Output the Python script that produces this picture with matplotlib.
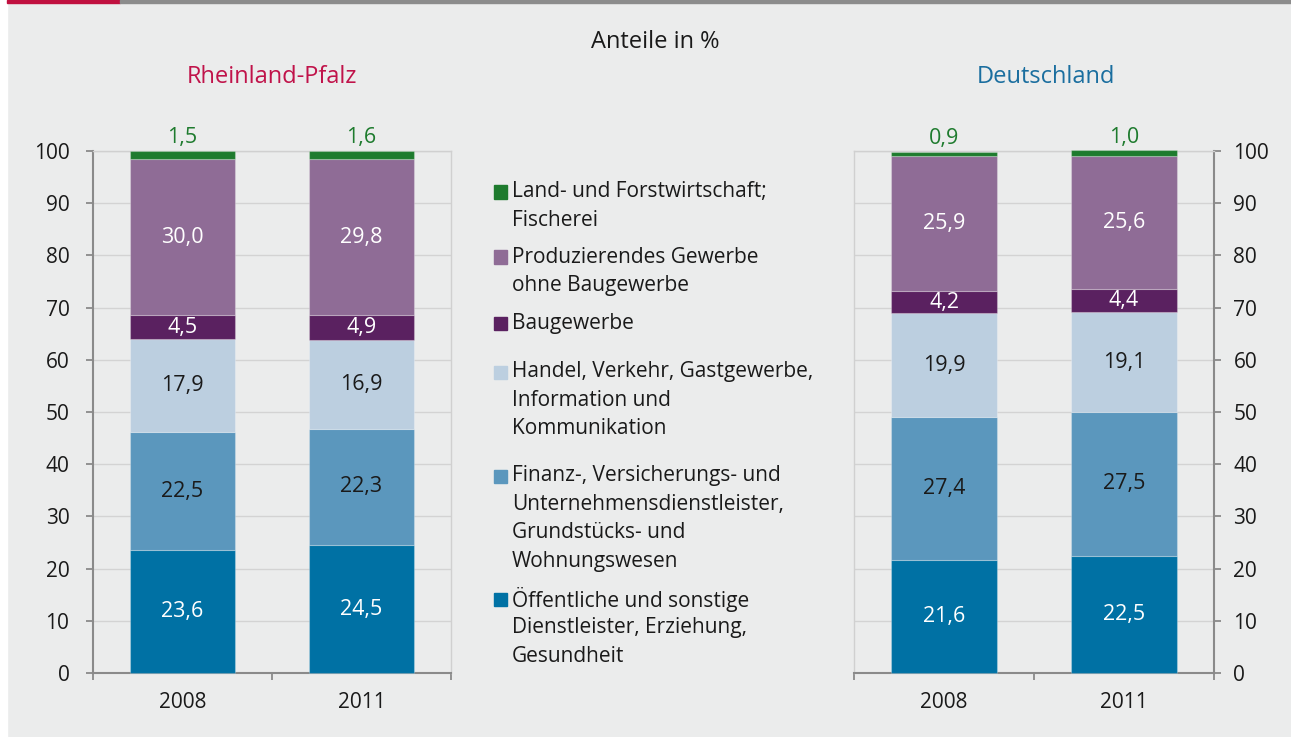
import matplotlib
matplotlib.use("Agg")
import matplotlib.pyplot as plt
from matplotlib.patches import Rectangle
import numpy as np

plt.rcParams['font.family'] = ['Open Sans', 'DejaVu Sans']

# ---------------- data ----------------
years = ['2008', '2011']
sectors = [
    "Öffentliche und sonstige\nDienstleister, Erziehung,\nGesundheit",
    "Finanz-, Versicherungs- und\nUnternehmensdienstleister,\nGrundstücks- und\nWohnungswesen",
    "Handel, Verkehr, Gastgewerbe,\nInformation und\nKommunikation",
    "Baugewerbe",
    "Produzierendes Gewerbe\nohne Baugewerbe",
    "Land- und Forstwirtschaft;\nFischerei",
]
rp_oeff = [23.6, 24.5]
rp_fin = [22.5, 22.3]
rp_handel = [17.9, 16.9]
rp_bau = [4.5, 4.9]
rp_prod = [30.0, 29.8]
rp_land = [1.5, 1.6]

de_oeff = [21.6, 22.5]
de_fin = [27.4, 27.5]
de_handel = [19.9, 19.1]
de_bau = [4.2, 4.4]
de_prod = [25.9, 25.6]
de_land = [0.9, 1.0]

yticks = [0, 10, 20, 30, 40, 50, 60, 70, 80, 90, 100]

colors = ['#0071a4', '#5b97bd', '#bccfe0', '#5a2160', '#8f6c96', '#1e7b2e']
label_colors = ['white', '#1a1a1a', '#1a1a1a', 'white', 'white', None]

BG = '#ebecec'
TXT = '#1a1a1a'
W, H = 1291, 737
fig = plt.figure(figsize=(W / 100, H / 100), dpi=100, facecolor=BG)

def fx(px):
    return px / W

def fy(py):
    return 1 - py / H

# decorations: white left margin, top bar
fig.add_artist(Rectangle((0, 0), fx(7), 1, transform=fig.transFigure, color='white', zorder=0))
fig.add_artist(Rectangle((fx(7), fy(3)), fx(113), 3 / H, transform=fig.transFigure,
                         color='#c0103f', zorder=1))
fig.add_artist(Rectangle((fx(120), fy(3)), 1 - fx(120), 3 / H, transform=fig.transFigure,
                         color='#8c8c8c', zorder=1))


def fmt(v):
    return f"{v:.1f}".replace('.', ',')


def draw(ax, series, side):
    ax.set_facecolor(BG)
    x = np.arange(len(years))
    bottom = np.zeros(len(years))
    for i, vals in enumerate(series):
        vals = np.array(vals)
        ax.bar(x, vals, 0.587, bottom=bottom, color=colors[i], zorder=3,
               edgecolor=(1, 1, 1, 0.25), linewidth=0.8, clip_on=False)
        for j in range(len(years)):
            if label_colors[i] is None:
                ax.annotate(fmt(vals[j]), (x[j], bottom[j] + vals[j]), xytext=(0, 2),
                            textcoords='offset points', ha='center', va='bottom',
                            color=colors[i], fontsize=15.5, annotation_clip=False)
            else:
                ax.text(x[j], bottom[j] + vals[j] / 2, fmt(vals[j]), ha='center', va='center',
                        color=label_colors[i], fontsize=15.5, zorder=4)
        bottom = bottom + vals
    ax.set_xlim(-0.5, 1.5)
    ax.set_ylim(0, 100)
    ax.set_yticks(yticks)
    ax.set_xticks(x)
    ax.set_xticklabels(years)
    ax.set_xticks([-0.5, 0.5, 1.5], minor=True)
    ax.tick_params(axis='x', which='major', length=0, pad=14, labelsize=15, labelcolor=TXT)
    ax.tick_params(axis='x', which='minor', length=5, width=1.3, color='#8a8a8a')
    ax.grid(axis='y', color='#d3d3d3', linewidth=1, zorder=0)
    for s in ax.spines.values():
        s.set_color('#d0d0d0')
        s.set_linewidth(1)
    ax.spines['bottom'].set_color('#8a8a8a')
    ax.spines['bottom'].set_linewidth(1.5)
    if side == 'left':
        ax.spines['left'].set_color('#8a8a8a')
        ax.spines['left'].set_linewidth(1.5)
        ax.tick_params(axis='y', length=5, width=1.3, color='#8a8a8a', pad=12,
                       labelsize=15, labelcolor=TXT)
    else:
        ax.spines['right'].set_color('#8a8a8a')
        ax.spines['right'].set_linewidth(1.5)
        ax.yaxis.tick_right()
        ax.tick_params(axis='y', length=5, width=1.3, color='#8a8a8a', pad=9,
                       labelsize=15, labelcolor=TXT)
    ax.set_axisbelow(True)


ax1 = fig.add_axes([fx(93), fy(673), fx(451 - 93), (673 - 151) / H])
ax2 = fig.add_axes([fx(854), fy(673), fx(1214 - 854), (673 - 151) / H])
draw(ax1, [rp_oeff, rp_fin, rp_handel, rp_bau, rp_prod, rp_land], 'left')
draw(ax2, [de_oeff, de_fin, de_handel, de_bau, de_prod, de_land], 'right')

# titles
fig.text(fx(655), fy(42), 'Anteile in %', ha='center', va='center', fontsize=17, color=TXT)
fig.text(fx(272), fy(77), 'Rheinland-Pfalz', ha='center', va='center', fontsize=17, color='#c0134a')
fig.text(fx(1046), fy(77), 'Deutschland', ha='center', va='center', fontsize=17, color='#1a6e9f')

# legend (top to bottom)
first_line_y = [192, 257, 323, 372, 476, 599]
line_h = 28.5
for k, idx in enumerate(range(len(sectors) - 1, -1, -1)):
    y0 = first_line_y[k]
    fig.add_artist(Rectangle((fx(494), fy(y0 + 6.5)), fx(13), 13 / H, transform=fig.transFigure,
                             color=colors[idx], zorder=2))
    for n, line in enumerate(sectors[idx].split('\n')):
        fig.text(fx(512), fy(y0 + n * line_h), line, ha='left', va='center',
                 fontsize=15, color=TXT)

fig.savefig('out.png', dpi=100, facecolor=BG)
